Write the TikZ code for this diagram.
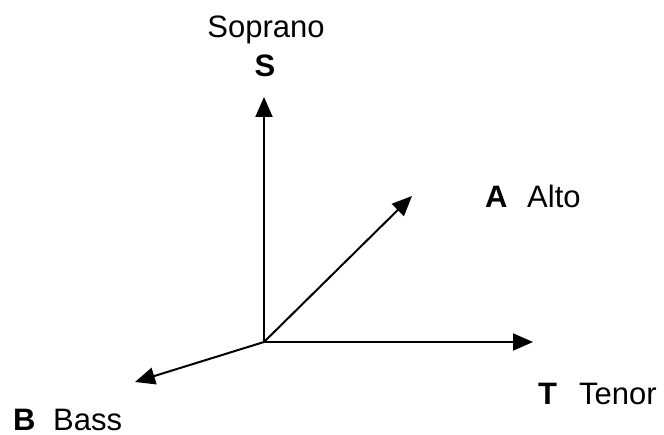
\documentclass[tikz,border=0pt]{standalone}
\usepackage{fontspec}
\setmainfont{Liberation Sans}
\usetikzlibrary{arrows.meta}
\begin{document}
\begin{tikzpicture}[x=1pt,y=-1pt,
    voice/.style={inner sep=0pt,anchor=base west,font=\fontsize{31}{36}\selectfont},
    letter/.style={voice,font=\fontsize{31}{36}\selectfont\bfseries}]
      \useasboundingbox (0,0) rectangle (664,435);
      \draw
        (264,342) coordinate (o)
        (264,97) coordinate (s)
        (533,342) coordinate (t)
        (412,196) coordinate (a)
        (135,382) coordinate (b);
      \node[voice,anchor=base] (soprano) at (266,38) {Soprano};
      \node[letter,anchor=base] (S) at (265,77) {S};
      \node[letter] (A) at (485,208) {A};
      \node[voice] (alto) at (527,208) {Alto};
      \node[letter] (T) at (538,405) {T};
      \node[voice] (tenor) at (579,405) {Tenor};
      \node[letter] (B) at (13,430) {B};
      \node[voice] (bass) at (53,430) {Bass};
      \begin{scope}[line width=2pt,-{Triangle[length=20pt,width=17pt]}]
        \draw (o) to (s);
        \draw (o) to (t);
        \draw (o) to (a);
        \draw (o) to (b);
      \end{scope}
    \end{tikzpicture}
\end{document}
